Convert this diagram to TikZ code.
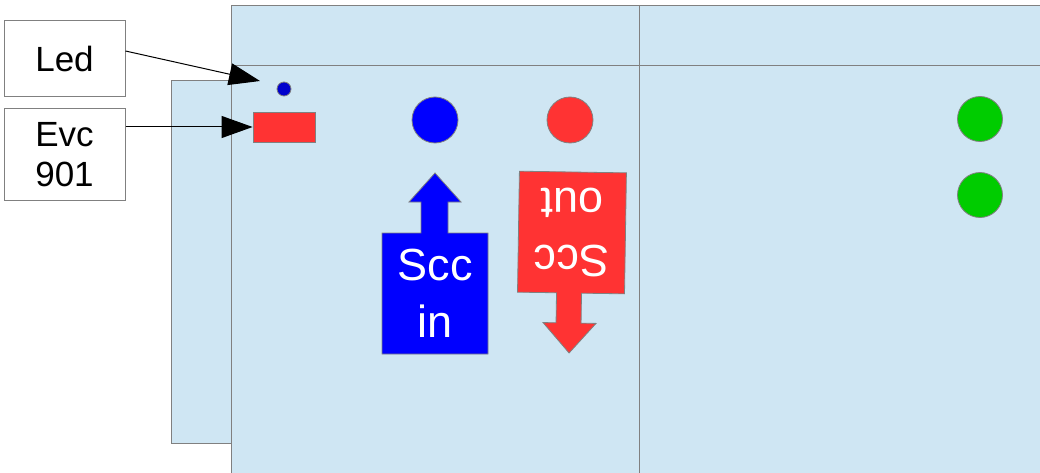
\documentclass[tikz,border=0pt]{standalone}
\usepackage{fontspec}
\setmainfont{Liberation Sans}
\usetikzlibrary{arrows.meta}
\definecolor{panel}{RGB}{207,230,243}
\definecolor{edge}{RGB}{128,128,128}
\definecolor{sred}{RGB}{255,51,51}
\definecolor{sblue}{RGB}{0,0,255}
\definecolor{dblue}{RGB}{0,0,204}
\definecolor{sgreen}{RGB}{0,204,0}
\tikzset{
  panelbox/.style={fill=panel,draw=edge,line width=1pt},
  labelbox/.style={draw=edge,fill=white,line width=1pt,minimum width=121pt,inner sep=0pt,align=center,font=\fontsize{35}{40}\selectfont},
  dot/.style={circle,draw=edge,line width=0.8pt,inner sep=0pt},
  pointer/.style={line width=1pt,-{Triangle[length=31pt,width=22pt]}},
  blocktext/.style={text=white,align=center,font=\fontsize{45}{57}\selectfont,inner sep=0pt}
}
\begin{document}
\begin{tikzpicture}[x=1pt,y=-1pt]
\useasboundingbox (0,0) rectangle (1040,473);
\clip (0,0) rectangle (1040,473);
% panels
\draw[panelbox] (171,81) rectangle (231,443);
\draw[panelbox] (231,6) rectangle (1050,480);
\draw[edge,line width=1pt] (231,66) -- (1040,66);
\draw[edge,line width=1pt] (639,6) -- (639,473);
% labels
\node[labelbox,minimum height=76pt] (led) at (64.5,59) {Led};
\node[labelbox,minimum height=91pt] (evc) at (64.5,154.5) {Evc\\901};
% parts
\node[dot,fill=dblue,minimum size=14pt] (ledot) at (284,89) {};
\node[draw=edge,line width=0.8pt,fill=sred,minimum width=62pt,minimum height=30pt,inner sep=0pt] (evcrect) at (284,127) {};
\node[dot,fill=sblue,minimum size=46pt] (bluec) at (435,120) {};
\node[dot,fill=sred,minimum size=46pt] (redc) at (570,120) {};
\node[dot,fill=sgreen,minimum size=45pt] (g1) at (980,119) {};
\node[dot,fill=sgreen,minimum size=45pt] (g2) at (980,195) {};
% pointers
\coordinate (ledtip) at (260,81);
\draw[pointer] (led.east |- 0,51) -- (ledtip);
\draw[pointer] (evc.east |- evcrect.west) -- (evcrect.west);
% Scc in
\draw[draw=edge,line width=0.8pt,fill=sblue] (382,233) -- (421,233) -- (421,202) -- (409,202) -- (435,173) -- (461,202) -- (448,202) -- (448,233) -- (488,233) -- (488,354) -- (382,354) -- cycle;
\node[blocktext] (sccin) at (435,293) {Scc\\in};
% Scc out (upside down)
\begin{scope}[rotate around={-0.9:(571,262)}]
\draw[draw=edge,line width=0.8pt,fill=sred] (518,172) -- (625,172) -- (625,293) -- (582,293) -- (582,323) -- (597,323) -- (570.5,353) -- (544,323) -- (557,323) -- (557,293) -- (518,293) -- cycle;
\node[blocktext,rotate=180] (sccout) at (571.5,232) {Scc\\out};
\end{scope}
\end{tikzpicture}
\end{document}
